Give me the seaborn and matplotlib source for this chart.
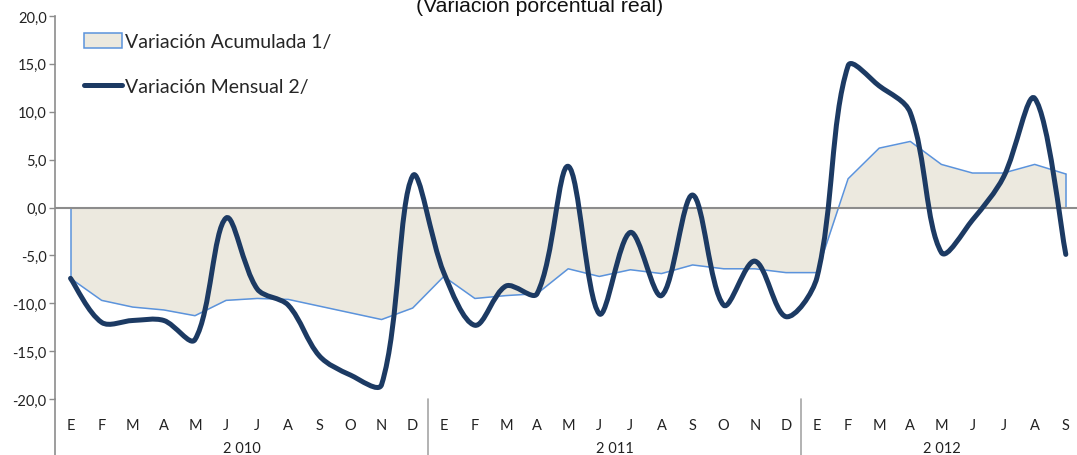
import numpy as np
import pandas as pd
import matplotlib
matplotlib.use("Agg")
import matplotlib.pyplot as plt
from matplotlib.path import Path
from matplotlib.patches import PathPatch, Patch
from matplotlib.lines import Line2D
import matplotlib.transforms as mtransforms
import seaborn as sns

# Données (variación porcentual real)
meses = ["E", "F", "M", "A", "M", "J", "J", "A", "S", "O", "N", "D"] * 2 + \
        ["E", "F", "M", "A", "M", "J", "J", "A", "S"]
anios = ["2 010", "2 011", "2 012"]
acumulada = [-7.4, -9.7, -10.4, -10.7, -11.3, -9.7, -9.5, -9.6, -10.3, -11.0, -11.7, -10.5,
             -7.2, -9.5, -9.2, -9.0, -6.4, -7.2, -6.5, -6.9, -6.0, -6.4, -6.4, -6.8,
             -6.8, 3.0, 6.2, 6.9, 4.5, 3.6, 3.6, 4.5, 3.5]
mensual = [-7.4, -12.0, -11.8, -11.8, -13.8, -1.1, -8.5, -10.2, -15.5, -17.5, -18.5, 3.3,
           -6.8, -12.3, -8.2, -9.0, 4.3, -11.1, -2.6, -9.2, 1.3, -10.2, -5.6, -11.4,
           -7.3, 14.8, 12.7, 9.9, -4.7, -1.3, 3.2, 11.4, -4.9]

NAVY = "#1c3a63"
EDGE = "#5b93dc"
FILL = "#ecE9df"
GRIS = "#8c8c8c"

sns.set_style("white")
plt.rcParams["font.family"] = ["Lato", "DejaVu Sans"]

df = pd.DataFrame({"idx": np.arange(len(meses)), "acumulada": acumulada, "mensual": mensual})

fig = plt.figure(figsize=(10.77, 4.56), dpi=100)
ax = fig.add_axes([55 / 1077, 1 - 400 / 456, 1 - 55 / 1077, 383 / 456])

# Área acumulada
ax.fill_between(df["idx"], 0, df["acumulada"], color=FILL, interpolate=True, lw=0, zorder=1)
sns.lineplot(data=df, x="idx", y="acumulada", color=EDGE, lw=1.1, ax=ax, zorder=2)
ax.plot([0, 0], [0, acumulada[0]], color=EDGE, lw=1.1, zorder=2)
ax.plot([df["idx"].iloc[-1]] * 2, [0, acumulada[-1]], color=EDGE, lw=1.1, zorder=2)

ax.axhline(0, color=GRIS, lw=1.5, zorder=3)

# Línea mensual suavizada (Bezier ponderada por longitud de segmento, como Excel)
SX, SY = 31.1, 9.575  # px por mes / px por punto
pts = df[["idx", "mensual"]].to_numpy(dtype=float)
scr = pts * [SX, SY]
n = len(pts)
seg = np.hypot(*np.diff(scr, axis=0).T)
verts = [tuple(pts[0])]
codes = [Path.MOVETO]
for i in range(n - 1):
    p0 = pts[max(i - 1, 0)]
    p1 = pts[i]
    p2 = pts[i + 1]
    p3 = pts[min(i + 2, n - 1)]
    d01 = seg[i - 1] if i > 0 else seg[i]
    d12 = seg[i]
    d23 = seg[i + 1] if i + 1 < n - 1 else seg[i]
    c1 = p1 + (p2 - p0) * d12 / (d01 + d12) / 3
    c2 = p2 - (p3 - p1) * d12 / (d12 + d23) / 3
    verts += [tuple(c1), tuple(c2), tuple(p2)]
    codes += [Path.CURVE4] * 3
ax.add_patch(PathPatch(Path(verts, codes), fill=False, ec=NAVY, lw=3.6,
                       capstyle="round", joinstyle="round", zorder=4))

ax.set_xlim(-0.5, 32.36)
ax.set_ylim(-20, 20)
ax.set_yticks(np.arange(-20, 21, 5))
ax.set_yticklabels([f"{v:.1f}".replace(".", ",") for v in np.arange(-20, 21, 5)])
ax.set_xticks(df["idx"])
ax.set_xticklabels(meses)
ax.set_xlabel("")
ax.set_ylabel("")
ax.tick_params(axis="x", length=0, pad=14, labelsize=10.5, colors="#222222")
ax.tick_params(axis="y", length=4, width=1, color=GRIS, pad=2, labelsize=10.5,
               labelcolor="#222222", direction="out", left=True)

for s in ["top", "right", "bottom"]:
    ax.spines[s].set_visible(False)
ax.spines["left"].set_color(GRIS)
ax.spines["left"].set_linewidth(1.2)

trans = mtransforms.blended_transform_factory(ax.transData, ax.transAxes)
ax.plot([-0.5, -0.5], [0, -0.16], color=GRIS, lw=1.2, transform=trans, clip_on=False)
for xs in [11.5, 23.5]:
    ax.plot([xs, xs], [0, -0.16], color="#a6a6a6", lw=1.2, transform=trans, clip_on=False)
for xc, lab in zip([5.5, 17.5, 28.0], anios):
    ax.text(xc, -0.129, lab, transform=trans, ha="center", va="center",
            fontsize=10.5, color="#222222")

handles = [Patch(facecolor=FILL, edgecolor=EDGE, lw=1.1),
           Line2D([0], [0], color=NAVY, lw=3.6, solid_capstyle="round")]
ax.legend(handles, ["Variación Acumulada 1/", "Variación Mensual 2/"],
          loc="upper left", bbox_to_anchor=(0.028, 0.955), frameon=False,
          fontsize=14, handlelength=1.95, handleheight=0.75, handletextpad=0.2,
          labelspacing=1.45, borderpad=0, borderaxespad=0)

fig.text(540 / 1077, 1 - 11.5 / 456, "(Variación porcentual real)", ha="center", va="baseline",
         fontsize=15.3, family="Liberation Sans", color="#111111")

fig.savefig("out.png", dpi=100)
